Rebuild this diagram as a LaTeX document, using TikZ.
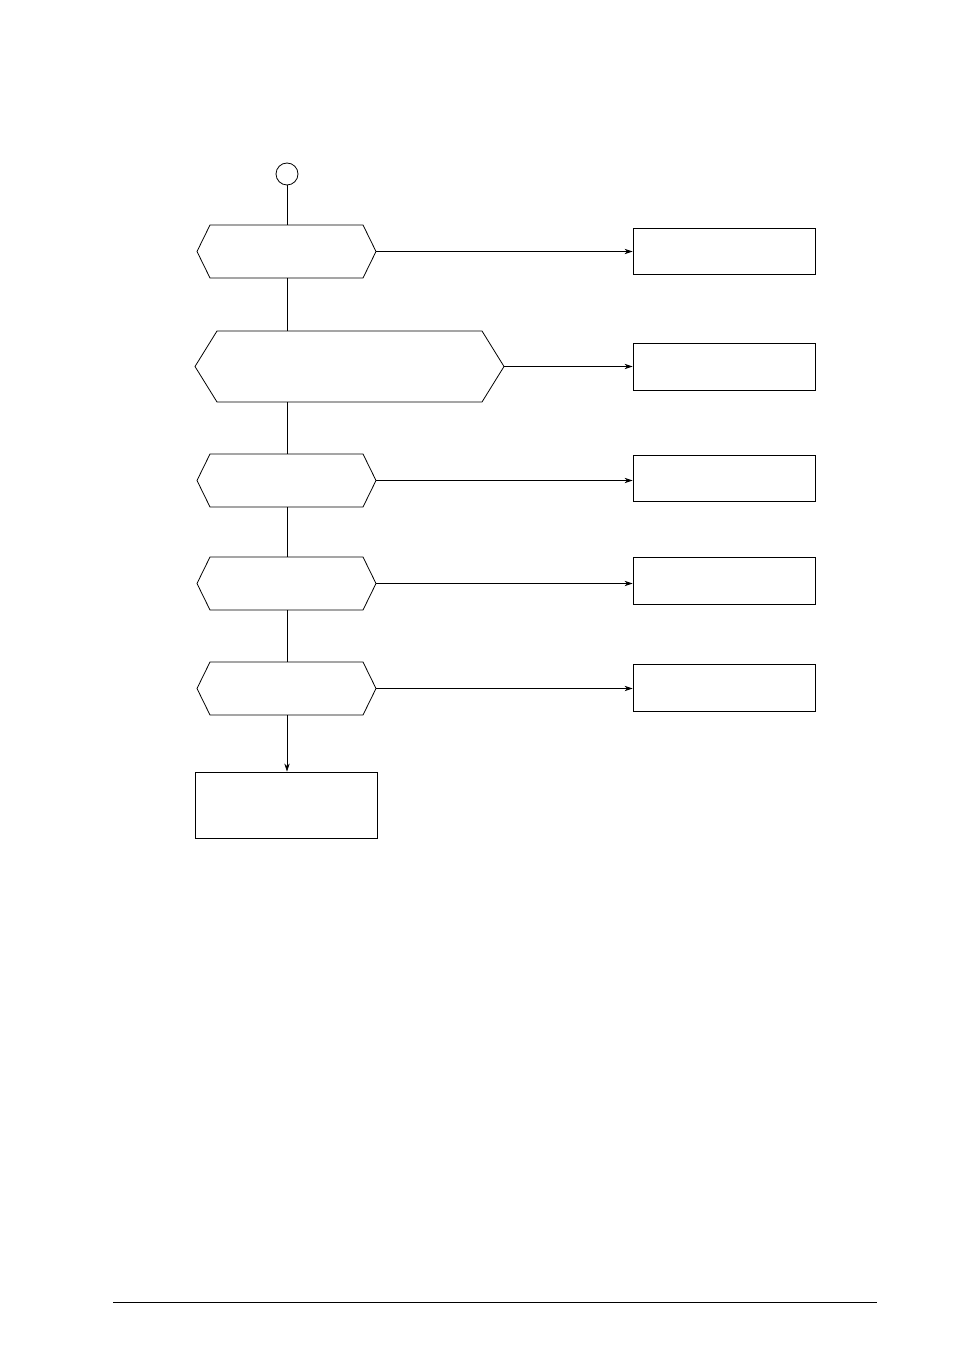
\documentclass[tikz,border=0pt]{standalone}
\usetikzlibrary{arrows.meta}
\begin{document}
\begin{tikzpicture}[x=0.75pt,y=-0.75pt,line width=0.6pt,
  hexbox/.style={inner sep=0,outer sep=0,minimum height=53*0.75pt},
  rbox/.style={draw,inner sep=0,minimum width=182*0.75pt,minimum height=46*0.75pt},
  arr/.style={-{Stealth[length=6pt,width=4pt]}}]
\useasboundingbox (0,0) rectangle (954,1351);
\node[draw,circle,minimum size=22*0.75pt,inner sep=0] (c) at (287,174) {};
\node[hexbox,minimum width=179*0.75pt] (h1) at (286.5,251.5) {};
\node[hexbox,minimum width=309*0.75pt,minimum height=71*0.75pt] (h2) at (349.5,366.5) {};
\node[hexbox,minimum width=179*0.75pt] (h3) at (286.5,480.5) {};
\node[hexbox,minimum width=179*0.75pt] (h4) at (286.5,583.5) {};
\node[hexbox,minimum width=179*0.75pt] (h5) at (286.5,688.5) {};
\foreach \h/\d in {h1/13,h2/22,h3/13,h4/13,h5/13}{
  \draw (\h.west) -- ([xshift=\d*0.75pt]\h.north west) -- ([xshift=-\d*0.75pt]\h.north east) -- (\h.east)
     -- ([xshift=-\d*0.75pt]\h.south east) -- ([xshift=\d*0.75pt]\h.south west) -- cycle;}
\node[rbox] (r1) at (724,251) {};
\node[rbox,minimum height=47*0.75pt] (r2) at (724,366.5) {};
\node[rbox] (r3) at (724,478) {};
\node[rbox,minimum height=47*0.75pt] (r4) at (724,580.5) {};
\node[rbox,minimum height=47*0.75pt] (r5) at (724,687.5) {};
\node[draw,inner sep=0,minimum width=182*0.75pt,minimum height=66*0.75pt] (b) at (286,805) {};
\draw (c.south) -- (c.south |- h1.north);
\draw (h1.south -| c) -- (h2.north -| c);
\draw (h2.south -| c) -- (h3.north -| c);
\draw (h3.south -| c) -- (h4.north -| c);
\draw (h4.south -| c) -- (h5.north -| c);
\draw[arr] (h5.south -| c) -- (b.north -| c);
\foreach \i in {1,...,5}{\draw[arr] (h\i.east) -- (h\i.east -| r\i.west);}
\coordinate (fl) at (113,1302); \coordinate (fr) at (877,1302);
\draw[line width=0.5pt] (fl) -- (fr);
\end{tikzpicture}
\end{document}
